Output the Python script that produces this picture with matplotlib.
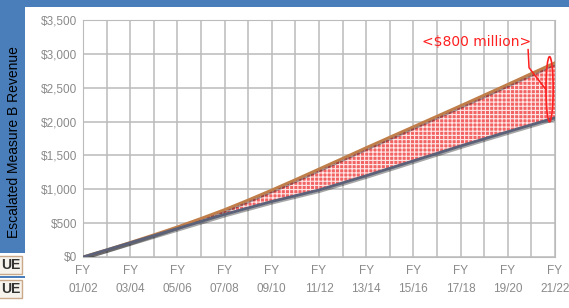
import numpy as np
import matplotlib.pyplot as plt
import matplotlib.patheffects as pe
from matplotlib.patches import Ellipse, Rectangle

# fiscal years 01/02 .. 21/22
years = ["01/02", "02/03", "03/04", "04/05", "05/06", "06/07", "07/08", "08/09",
         "09/10", "10/11", "11/12", "12/13", "13/14", "14/15", "15/16", "16/17",
         "17/18", "18/19", "19/20", "20/21", "21/22"]
upper = [0, 105, 215, 328, 445, 570, 700, 842, 990, 1143, 1300, 1457, 1615,
         1770, 1925, 2080, 2235, 2392, 2550, 2710, 2870]
lower = [0, 105, 210, 315, 420, 525, 630, 725, 820, 905, 990, 1095, 1200,
         1310, 1420, 1530, 1640, 1745, 1850, 1953, 2056]
yticks = [0, 500, 1000, 1500, 2000, 2500, 3000, 3500]

plt.rcParams['hatch.linewidth'] = 0.8

W, H = 569, 308
fig = plt.figure(figsize=(W/100, H/100), dpi=100, facecolor='#4A7EBB')
# white panel
fig.patches.append(Rectangle((25/W, 0), 1, 1-7/H, transform=fig.transFigure,
                             facecolor='white', edgecolor='none', zorder=-2))
fig.patches.append(Rectangle((0, 0), 25/W, 1-253/H, transform=fig.transFigure,
                             facecolor='white', edgecolor='none', zorder=-2))
# partial buttons bottom-left
for top in (256, 280):
    fig.patches.append(Rectangle((-10/W, 1-(top+18)/H), 32/W, 18/H,
                                 transform=fig.transFigure, facecolor='#F6F2EC',
                                 edgecolor='#C9A98A', lw=1, zorder=-1))
    fig.text(21/W, 1-(top+9)/H, "UE", ha='right', va='center', fontsize=10,
             fontweight='bold', color='#333333', family='Liberation Sans')
fig.patches.append(Rectangle((0, 1-277.5/H), 25/W, 1.2/H, transform=fig.transFigure,
                             facecolor='#4A7EBB', edgecolor='none', zorder=-1))

ax = fig.add_axes([83/W, 1-257/H, (555-83)/W, (257-20)/H])
ax.set_zorder(5)
ax.set_facecolor('white')
x = np.arange(len(years))

ax.fill_between(x, lower, upper, facecolor='#F26464', edgecolor='#FFE6E6',
                hatch='++++', linewidth=0, zorder=2)
shadow = [pe.SimpleLineShadow(offset=(1, -1), alpha=0.35), pe.Normal()]
ax.plot(x, upper, color='#C07E4A', lw=2, zorder=3, path_effects=shadow)
ax.plot(x, lower, color='#5B6178', lw=2, zorder=3, path_effects=shadow)

ax.set_xlim(0, 20)
ax.set_ylim(0, 3500)
ax.set_xticks(x[::2])
ax.set_xticks(x, minor=True)
ax.set_xticklabels(["FY\n" + y for y in years[::2]], linespacing=1.6)
ax.set_yticks(yticks)
ax.set_yticklabels(["${:,}".format(v) for v in yticks])
ax.grid(True, which='both', color='#BBBBBB', lw=1.1, zorder=1)
ax.set_axisbelow(True)
ax.tick_params(which='both', length=0, colors='#8A8A8A', labelsize=8.5, pad=4)
ax.tick_params(axis='x', pad=6)
for lab in ax.get_xticklabels() + ax.get_yticklabels():
    lab.set_family('Liberation Sans')
for s in ax.spines.values():
    s.set_color('#BBBBBB')

# annotation
red = '#FF2020'
ax.text(19.0, 3180, "<$800 million>", color=red, fontsize=10, ha='right',
        va='center', family='DejaVu Sans', zorder=5)
ax.plot([18.86, 18.9, 19.62], [3062, 2796, 2470], color=red, lw=1.1,
        zorder=5, clip_on=False)
ax.add_patch(Ellipse((19.77, 2478), 0.30, 961, facecolor='none',
                     edgecolor=red, lw=1.2, zorder=5, clip_on=False))

fig.text(14/W, 1-142/H, "Escalated Measure B Revenue", rotation=90,
         ha='center', va='center', fontsize=10, family='Liberation Sans',
         color='black')

fig.savefig("out.png", dpi=100, facecolor=fig.get_facecolor())
